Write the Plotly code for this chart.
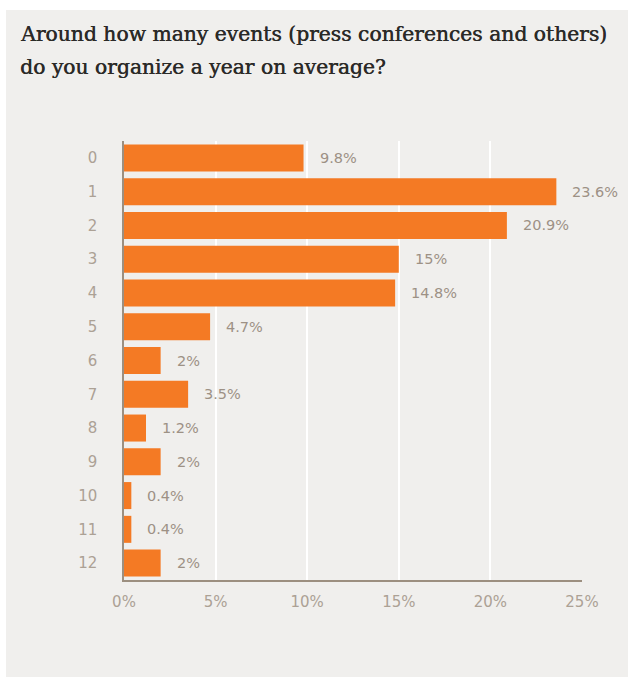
import plotly.graph_objects as go

# Survey answers: number of events organized per year, share of respondents (%)
categories = ["0", "1", "2", "3", "4", "5", "6", "7", "8", "9", "10", "11", "12"]
shares = [9.8, 23.6, 20.9, 15, 14.8, 4.7, 2, 3.5, 1.2, 2, 0.4, 0.4, 2]
x_ticks = [0, 5, 10, 15, 20, 25]
x_tick_labels = [f"{t}%" for t in x_ticks]

title_lines = [
    "Around how many events (press conferences and others)",
    "do you organize a year on average?",
]

BAR = "#f47a24"
CARD = "#f0efed"
MUTED = "#aca195"
AXIS = "#9c8f80"
LABEL_FONT = "DejaVu Sans"

W, H = 628, 677
ML, MR, MT, MB = 124, 46, 141, 97
pw, ph = W - ML - MR, H - MT - MB


def px_x(px):
    return (px - ML) / pw


def px_y(py):
    return ((H - MB) - py) / ph


fig = go.Figure()
fig.add_trace(go.Bar(
    y=categories,
    x=shares,
    orientation="h",
    marker=dict(color=BAR, line=dict(width=0)),
    hoverinfo="skip",
))

# value labels to the right of each bar
for c, v in zip(categories, shares):
    fig.add_annotation(
        x=v, y=c, xref="x", yref="y",
        text=f"{v:g}%", showarrow=False,
        xanchor="left", xshift=14,
        font=dict(family=LABEL_FONT, size=14.5, color="#9d9185"),
    )

# light card behind the whole chart
fig.add_shape(
    type="rect", xref="paper", yref="paper", layer="below",
    x0=px_x(6), x1=px_x(W + 2),
    y0=px_y(H + 2), y1=px_y(10),
    fillcolor=CARD, line=dict(width=0),
)

# two-line title, slightly emboldened
for i, line in enumerate(title_lines):
    fig.add_annotation(
        text=line, xref="paper", yref="paper",
        x=px_x(18), y=px_y(34 + 33 * i),
        xanchor="left", yanchor="middle", align="left", showarrow=False,
        font=dict(family="DejaVu Serif", size=20.3, color="#2b2a28",
                  shadow="0.5px 0px 0px #2b2a28"),
    )

fig.update_layout(
    width=W, height=H,
    margin=dict(l=ML, r=MR, t=MT, b=MB),
    paper_bgcolor="white",
    plot_bgcolor="rgba(0,0,0,0)",
    showlegend=False,
    bargap=0.2,
    xaxis=dict(
        range=[0, 25],
        tickvals=x_ticks, ticktext=x_tick_labels,
        showgrid=True, gridcolor="white", gridwidth=1.5,
        zeroline=False,
        showline=True, linecolor=AXIS, linewidth=1.5,
        ticks="", ticklabelstandoff=7,
        tickfont=dict(family=LABEL_FONT, size=15, color=MUTED),
        fixedrange=True,
    ),
    yaxis=dict(
        categoryorder="array", categoryarray=categories,
        autorange=False, range=[12.5, -0.5],
        showgrid=False, zeroline=False,
        showline=True, linecolor=AXIS, linewidth=1.5,
        ticks="", ticklabelstandoff=22,
        tickfont=dict(family=LABEL_FONT, size=15, color=MUTED),
        fixedrange=True,
    ),
)

fig.write_html("out.html")
